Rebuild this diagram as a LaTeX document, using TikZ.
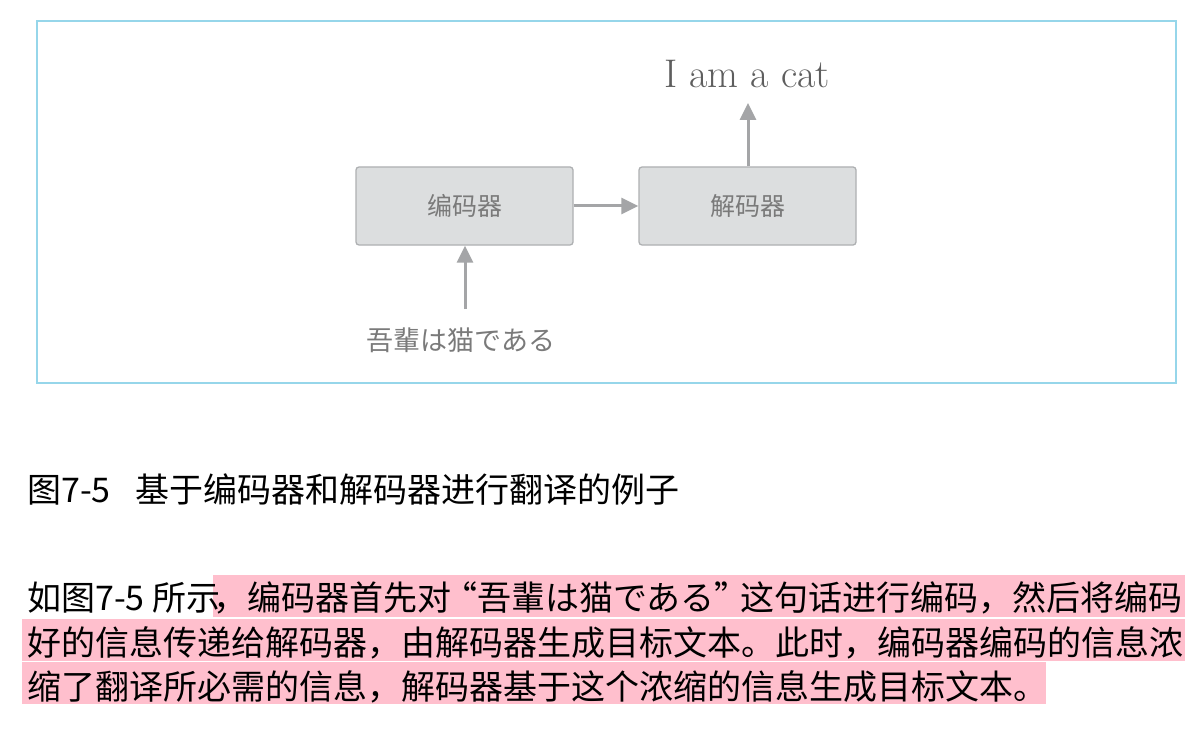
\documentclass[tikz,border=0pt]{standalone}
\usepackage{fontspec}
\newfontfamily\cjksc{Noto Sans CJK SC}
\newfontfamily\cjkjp{Noto Sans CJK JP}
\usetikzlibrary{arrows.meta}
\definecolor{framec}{HTML}{96D6EA}
\definecolor{boxfill}{HTML}{DCDEDF}
\definecolor{boxdraw}{HTML}{AEB0B2}
\definecolor{arrc}{HTML}{A4A5A7}
\definecolor{labc}{HTML}{7A7A7A}
\definecolor{outc}{HTML}{5E5E5E}
\definecolor{hlc}{HTML}{FFBFCD}
\begin{document}
\begin{tikzpicture}[x=1pt,y=-1pt,
  blockbox/.style={draw=boxdraw,line width=1.3pt,fill=boxfill,rounded corners=3pt,
    minimum width=217pt,minimum height=78pt,inner sep=0pt,text=labc,
    font=\cjksc\fontsize{25}{30}\selectfont},
  arr/.style={draw=arrc,line width=3pt,-{Triangle[length=17pt,width=16pt]}},
  bodytext/.style={anchor=west,inner sep=0pt,text=black,
    font=\cjksc\fontsize{34}{40}\selectfont},
  hlrect/.style={fill=hlc,draw=none}
]
\useasboundingbox (0,0) rectangle (1202,746);
\fill[white] (0,0) rectangle (1202,746);
% frame
\draw[framec,line width=1.5pt] (37,21) rectangle (1176,383);
% blocks
\node[blockbox] (enc) at (464.5,206) {编码器};
\node[blockbox] (dec) at (747.5,206) {解码器};
\node[inner sep=0pt,text=outc,font=\fontsize{40}{44}\selectfont] (out) at (747,74) {I am a cat};
\node[inner sep=0pt,text=labc,font=\cjkjp\fontsize{27}{32}\selectfont] (inp) at (461,340) {吾輩は猫である};
\coordinate (outtip) at (748,103);
\coordinate (inptail) at (465,309);
\draw[arr] (inptail) -- (enc.south -| inptail);
\draw[arr] (enc.east) -- (dec.west);
\draw[arr] (dec.north -| outtip) -- (outtip);
% caption
\node[bodytext] (capnum) at (27,490) {图7-5};
\node[bodytext] (captext) at (135,490) {基于编码器和解码器进行翻译的例子};
% highlights
\fill[hlrect] (213,575) rectangle (1185,617);
\fill[hlrect] (22,619) rectangle (1185,661);
\fill[hlrect] (22,662) rectangle (1046,704);
% paragraph
\node[bodytext] (l1a) at (27,598) {如图7-5 所示};
\node[bodytext] (l1b) at (213,598) {，编码器首先对\kern-8pt“吾輩は猫である”\kern-8pt这句话进行编码，然后将编码};
\node[bodytext] (l2) at (27,643) {好的信息传递给解码器，由解码器生成目标文本。此时，编码器编码的信息浓};
\node[bodytext] (l3) at (27,687) {缩了翻译所必需的信息，解码器基于这个浓缩的信息生成目标文本。};
\end{tikzpicture}
\end{document}
